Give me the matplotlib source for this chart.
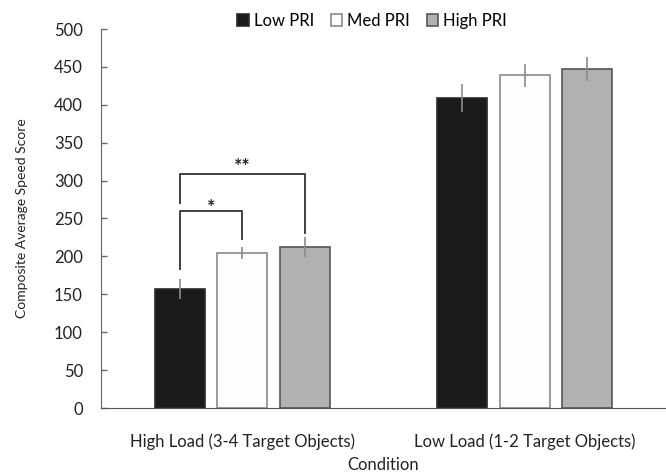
import matplotlib.pyplot as plt
import numpy as np

conditions = ['High Load (3-4 Target Objects)', 'Low Load (1-2 Target Objects)']
series = ['Low PRI', 'Med PRI', 'High PRI']
low_pri = [157, 409]
med_pri = [204, 439]
high_pri = [212, 447]
low_err = [13, 18]
med_err = [8, 15]
high_err = [13, 16]

fill_colors = ['#1b1b1b', '#fdfdfd', '#b1b1b1']
edge_colors = ['#2a2a2a', '#8a8a8a', '#555555']

plt.rcParams['font.family'] = ['Lato', 'DejaVu Sans']

fig = plt.figure(figsize=(6.66, 4.73), dpi=100)
ax = fig.add_axes([101 / 666, 1 - 408 / 473, 565 / 666, 379 / 473])

x = np.arange(len(conditions))
width = 50 / 282.5
step = 62.5 / 282.5
values = [low_pri, med_pri, high_pri]
errors = [low_err, med_err, high_err]
for i, (name, vals, errs) in enumerate(zip(series, values, errors)):
    pos = x + (i - 1) * step
    ax.bar(pos, vals, width, color=fill_colors[i], edgecolor=edge_colors[i],
           linewidth=1.2, label=name, zorder=2)
    ax.errorbar(pos, vals, yerr=errs, fmt='none', ecolor='#8c8c8c',
                elinewidth=1.2, capsize=0, zorder=3)

# significance brackets (first group)
lc = '#404040'
xl = x[0] - step
xm = x[0]
xh = x[0] + step
ax.plot([xl, xl, xm, xm], [183, 260, 260, 223], color=lc, lw=1.4, zorder=4)
ax.plot([xl, xl, xh, xh], [270, 309, 309, 231], color=lc, lw=1.4, zorder=4)
ax.text((xl + xm) / 2, 253, '*', ha='center', va='bottom', fontsize=14,
        fontweight='bold', color='#222222')
ax.text((xl + xh) / 2, 307, '**', ha='center', va='bottom', fontsize=14,
        fontweight='bold', color='#222222')

ax.set_xlim(-0.5, 1.5)
ax.set_ylim(0, 500)
ax.set_yticks(np.arange(0, 501, 50))
ax.set_xticks(x)
ax.set_xticklabels(conditions)
ax.tick_params(axis='x', length=0, pad=18, labelsize=12, colors='#222222')
ax.tick_params(axis='y', length=4, width=1, pad=13, labelsize=12,
               colors='#222222', color='#666666', direction='in')
for lbl in ax.get_yticklabels():
    lbl.set_horizontalalignment('right')

for s in ['top', 'right']:
    ax.spines[s].set_visible(False)
ax.spines['left'].set_color('#666666')
ax.spines['bottom'].set_color('#555555')

ax.set_ylabel('Composite Average Speed Score', fontsize=10, color='#222222',
              labelpad=19)
ax.set_xlabel('Condition', fontsize=12, color='#222222', labelpad=5)

ax.legend(loc='lower center', bbox_to_anchor=(0.48, 0.96), ncol=3,
          frameon=False, fontsize=12, handlelength=0.7, handleheight=0.7,
          handletextpad=0.3, columnspacing=1.0)

fig.savefig('out.png', dpi=100)
